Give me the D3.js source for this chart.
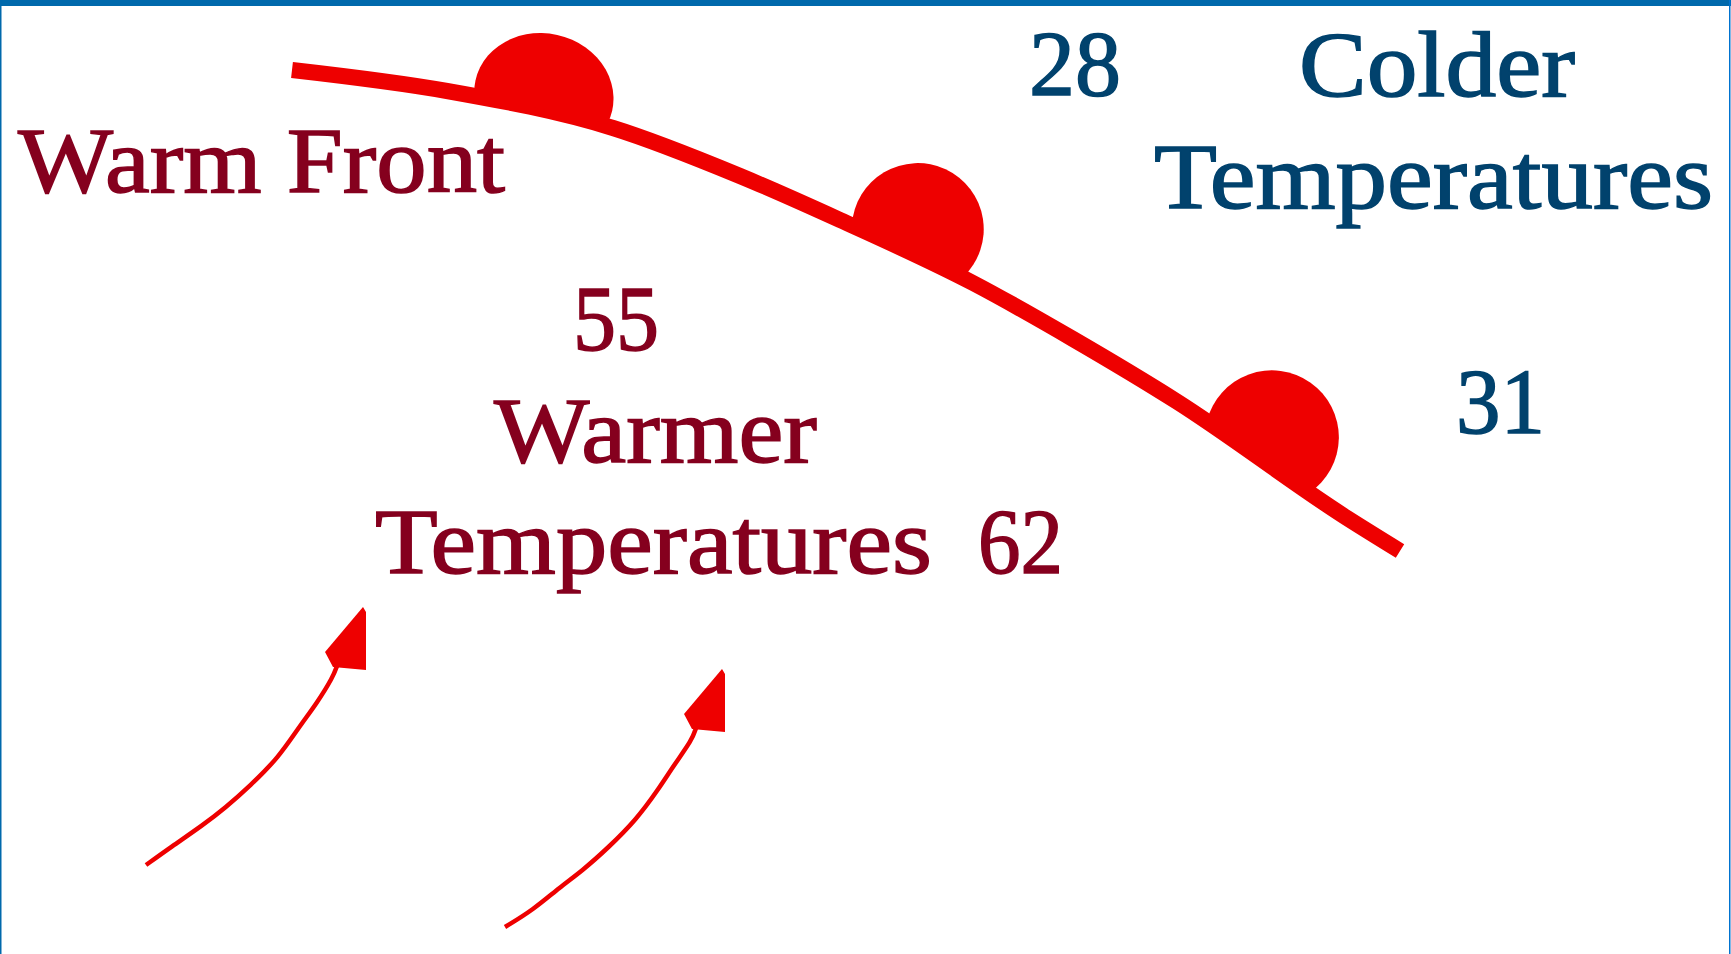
<!DOCTYPE html>
<html>
<head>
<meta charset="utf-8">
<script src="https://cdn.jsdelivr.net/npm/d3@7"></script>
<style>
  html, body { margin: 0; padding: 0; background: #fff; }
  svg { display: block; }
</style>
</head>
<body>
<svg id="chart"></svg>
<script>
// diagram units (same grid as the original picture)
var frontX = [292, 447, 613, 740, 840, 973, 1073, 1176, 1347, 1400];
var frontY = [70, 91, 128, 176, 220, 283, 339, 401, 518, 551];

// warm front semicircles, placed by x along the front
var bumpX = [541, 908, 1258];

// wind arrows (tail -> head)
var arrow1X = [146, 171, 203, 225, 250, 279, 299, 317, 333, 337];
var arrow1Y = [865, 847, 825, 808, 786, 757, 727, 703, 677, 666];
var head1X = [363, 325, 333, 366, 366];
var head1Y = [607, 652, 667, 670, 612];
var arrow2X = [505, 533, 560, 582, 609, 636, 658, 674, 692, 696];
var arrow2Y = [927, 910, 887, 871, 847, 820, 790, 765, 740, 728];
var head2X = [722, 684, 692, 725, 725];
var head2Y = [669, 714, 729, 732, 674];

var labelText = ["Warm Front", "28", "Colder", "Temperatures", "55", "Warmer", "Temperatures", "62", "31"];
var labelSide = ["warm", "cold", "cold", "cold", "warm", "warm", "warm", "warm", "cold"];
var labelLeft = [18, 1029, 1299, 1154, 573, 494, 375, 978, 1456];
var labelRight = [505, 1121, 1575, 1713, 659, 817, 932, 1063, 1545];
var labelBase = [192, 95, 96, 208, 350, 462, 573, 573, 433];

var width = 1731;
var height = 954;

var frontRed = "#ee0000";
var sideColor = { warm: "#85001e", cold: "#01426d" };
// shape of each front bump: along-line radius, across-line radius, lift off the line
var bumpShape = [{ rx: 70, ry: 62, off: 14 }, { rx: 66, ry: 66, off: 24 }, { rx: 67, ry: 67, off: 24 }];

var svg = d3.select("#chart")
    .attr("width", width)
    .attr("height", height);

var x = d3.scaleLinear().domain([0, 1731]).range([0, width]);
var y = d3.scaleLinear().domain([0, 954]).range([0, height]);

// frame
svg.append("rect")
    .attr("x", 0).attr("y", 0)
    .attr("width", width).attr("height", height)
    .style("fill", "#fff");
svg.append("rect")
    .attr("x", 0).attr("y", 0)
    .attr("width", width).attr("height", 6)
    .style("fill", "#0069ac");
svg.append("rect")
    .attr("x", 0).attr("y", 0)
    .attr("width", 1.5).attr("height", height)
    .style("fill", "#0069ac");
svg.append("rect")
    .attr("x", width - 2).attr("y", 0)
    .attr("width", 1.5).attr("height", height)
    .style("fill", "#0073cf");

// the front line
var frontPts = frontX.map(function(v, i) { return [v, frontY[i]]; });
var frontLine = d3.line()
    .x(function(d) { return x(d[0]); })
    .y(function(d) { return y(d[1]); })
    .curve(d3.curveMonotoneX);

var front = svg.append("path")
    .datum(frontPts)
    .attr("d", frontLine)
    .style("fill", "none")
    .style("stroke", frontRed)
    .style("stroke-width", "16px")
    .style("stroke-linecap", "butt");

// bumps on the cold side
var node = front.node();
var total = node.getTotalLength();
function lengthAtX(px) {
    var best = 0, bestD = Infinity;
    for (var l = 0; l <= total; l += 1) {
        var p = node.getPointAtLength(l);
        var dd = Math.abs(p.x - px);
        if (dd < bestD) { bestD = dd; best = l; }
    }
    return best;
}
bumpX.forEach(function(bx, i) {
    var s = bumpShape[i];
    var l = lengthAtX(x(bx));
    var p = node.getPointAtLength(l);
    var p0 = node.getPointAtLength(Math.max(0, l - 6));
    var p1 = node.getPointAtLength(Math.min(total, l + 6));
    var tx = p1.x - p0.x, ty = p1.y - p0.y;
    var n = Math.sqrt(tx * tx + ty * ty);
    tx /= n; ty /= n;
    var ang = Math.atan2(ty, tx) * 180 / Math.PI;
    var h = s.rx * Math.sqrt(1 - (s.off * s.off) / (s.ry * s.ry));
    svg.append("path")
        .attr("d", "M" + (p.x - h * tx) + "," + (p.y - h * ty) +
                   "A" + s.rx + "," + s.ry + " " + ang + " 1 1 " + (p.x + h * tx) + "," + (p.y + h * ty) + "Z")
        .style("fill", frontRed)
        .style("stroke", "none");
});

// wind arrows
var arrowLine = d3.line()
    .x(function(d) { return x(d[0]); })
    .y(function(d) { return y(d[1]); })
    .curve(d3.curveBasis);
var headLine = d3.line()
    .x(function(d) { return x(d[0]); })
    .y(function(d) { return y(d[1]); });

function drawArrow(ax, ay, hx, hy) {
    svg.append("path")
        .datum(ax.map(function(v, i) { return [v, ay[i]]; }))
        .attr("d", arrowLine)
        .style("fill", "none")
        .style("stroke", frontRed)
        .style("stroke-width", "4.5px");
    svg.append("path")
        .datum(hx.map(function(v, i) { return [v, hy[i]]; }))
        .attr("d", function(d) { return headLine(d) + "Z"; })
        .style("fill", frontRed)
        .style("stroke", "none");
}
drawArrow(arrow1X, arrow1Y, head1X, head1Y);
drawArrow(arrow2X, arrow2Y, head2X, head2Y);

// labels
labelText.forEach(function(t, i) {
    svg.append("text")
        .attr("x", x(labelLeft[i]))
        .attr("y", y(labelBase[i]))
        .attr("textLength", x(labelRight[i]) - x(labelLeft[i]))
        .attr("lengthAdjust", "spacingAndGlyphs")
        .style("font-family", "'Liberation Serif', 'DejaVu Serif', serif")
        .style("font-size", "93px")
        .style("fill", sideColor[labelSide[i]])
        .style("stroke", sideColor[labelSide[i]])
        .style("stroke-width", "1.5px")
        .text(t);
});
</script>
</body>
</html>
